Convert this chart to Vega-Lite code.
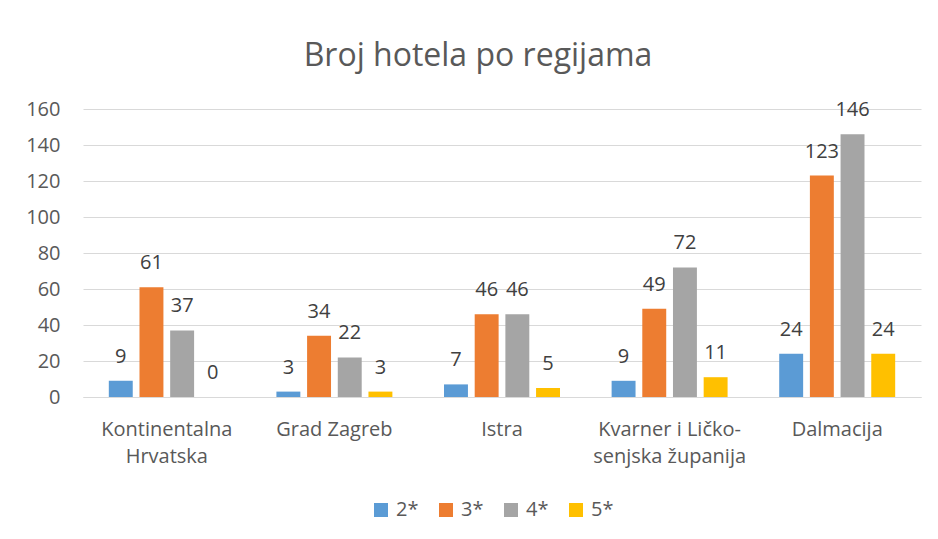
{
  "$schema": "https://vega.github.io/schema/vega-lite/v6.json",
  "autosize": {"type": "none"},
  "width": 838,
  "height": 288,
  "padding": {"left": 83, "top": 109, "right": 17, "bottom": 142},
  "background": "white",
  "title": {
    "text": "Broj hotela po regijama",
    "font": "Open Sans",
    "fontSize": 32,
    "fontWeight": "normal",
    "color": "#595959",
    "anchor": "middle",
    "baseline": "alphabetic",
    "dx": -24,
    "offset": 1
  },
  "data": {
    "values": [
      {"region": "Kontinentalna Hrvatska", "stars": "2*", "value": 9},
      {"region": "Kontinentalna Hrvatska", "stars": "3*", "value": 61},
      {"region": "Kontinentalna Hrvatska", "stars": "4*", "value": 37},
      {"region": "Kontinentalna Hrvatska", "stars": "5*", "value": 0},
      {"region": "Grad Zagreb", "stars": "2*", "value": 3},
      {"region": "Grad Zagreb", "stars": "3*", "value": 34},
      {"region": "Grad Zagreb", "stars": "4*", "value": 22},
      {"region": "Grad Zagreb", "stars": "5*", "value": 3},
      {"region": "Istra", "stars": "2*", "value": 7},
      {"region": "Istra", "stars": "3*", "value": 46},
      {"region": "Istra", "stars": "4*", "value": 46},
      {"region": "Istra", "stars": "5*", "value": 5},
      {"region": "Kvarner i Ličko-senjska županija", "stars": "2*", "value": 9},
      {"region": "Kvarner i Ličko-senjska županija", "stars": "3*", "value": 49},
      {"region": "Kvarner i Ličko-senjska županija", "stars": "4*", "value": 72},
      {"region": "Kvarner i Ličko-senjska županija", "stars": "5*", "value": 11},
      {"region": "Dalmacija", "stars": "2*", "value": 24},
      {"region": "Dalmacija", "stars": "3*", "value": 123},
      {"region": "Dalmacija", "stars": "4*", "value": 146},
      {"region": "Dalmacija", "stars": "5*", "value": 24}
    ]
  },
  "encoding": {
    "x": {
      "field": "region",
      "type": "nominal",
      "sort": ["Kontinentalna Hrvatska", "Grad Zagreb", "Istra", "Kvarner i Ličko-senjska županija", "Dalmacija"],
      "scale": {"paddingInner": 0.308, "paddingOuter": 0.154},
      "axis": {
        "title": null,
        "labelAngle": 0,
        "labelFont": "Open Sans",
        "labelFontSize": 20,
        "labelColor": "#595959",
        "labelPadding": 22,
        "labelLineHeight": 27,
        "labelBaseline": "top",
        "ticks": false,
        "domainColor": "#d9d9d9",
        "domainWidth": 1,
        "labelExpr": "datum.label == 'Kontinentalna Hrvatska' ? ['Kontinentalna', 'Hrvatska'] : datum.label == 'Kvarner i Ličko-senjska županija' ? ['Kvarner i Ličko-', 'senjska županija'] : datum.label"
      }
    },
    "xOffset": {
      "field": "stars",
      "type": "nominal",
      "scale": {"paddingInner": 0.22, "paddingOuter": 0}
    },
    "y": {
      "field": "value",
      "type": "quantitative",
      "scale": {"domain": [0, 160]},
      "axis": {
        "title": null,
        "values": [0, 20, 40, 60, 80, 100, 120, 140, 160],
        "labelFont": "Open Sans",
        "labelFontSize": 20,
        "labelColor": "#595959",
        "labelPadding": 23,
        "ticks": false,
        "domain": false,
        "gridColor": "#d9d9d9",
        "gridWidth": 1
      }
    }
  },
  "layer": [
    {
      "mark": {"type": "bar"},
      "encoding": {
        "color": {
          "field": "stars",
          "type": "nominal",
          "scale": {"domain": ["2*", "3*", "4*", "5*"], "range": ["#5B9BD5", "#ED7D31", "#A5A5A5", "#FFC000"]},
          "legend": {
            "title": null,
            "orient": "none",
            "direction": "horizontal",
            "legendX": 288,
            "legendY": 391,
            "symbolType": "square",
            "symbolSize": 196,
            "symbolStrokeWidth": 0,
            "labelFont": "Open Sans",
            "labelFontSize": 20,
            "labelColor": "#595959",
            "labelOffset": 5,
            "columnPadding": 17
          }
        }
      }
    },
    {
      "mark": {"type": "text", "baseline": "alphabetic", "dy": -18, "font": "Open Sans", "fontSize": 20, "color": "#404040"},
      "encoding": {
        "text": {"field": "value", "type": "quantitative"}
      }
    }
  ],
  "config": {
    "view": {"stroke": null}
  }
}
